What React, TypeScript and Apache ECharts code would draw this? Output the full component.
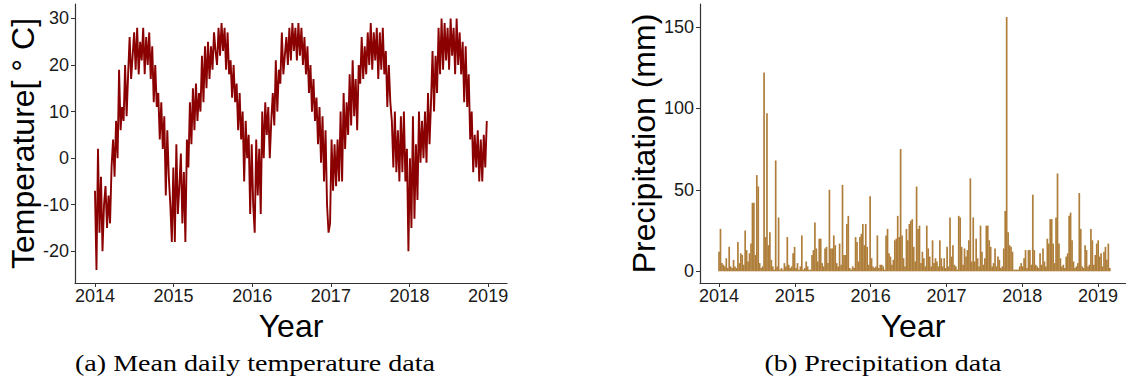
import React, { useEffect, useRef } from "react";
import * as echarts from "echarts";

// ---- data (weekly readings from the reference, starting 2014-01-01) ----
const START_YEAR = 2014;
const STEP_DAYS = 7;

const yearTicks = [2014, 2015, 2016, 2017, 2018, 2019];
const tempTicks = [-20, -10, 0, 10, 20, 30];
const precipTicks = [0, 50, 100, 150];

const temp2014 = [
  -7, -24, 2, -16, -4, -20, -10, -6, -15, -8, -14, -2, 4, -4, 8, 0, 19, 6, 11, 8,
  20, 9, 18, 26, 17, 22, 27, 19, 28, 18, 25, 21, 28, 18, 26, 20, 27, 17, 24, 12,
  20, 11, 14, 4, 12, 2, 9, -8, 6, -4, -10, -18,
];
const temp2015 = [
  -2, -18, 3, -12, -6, 1, -14, -3, -18, 4, -2, 12, 3, 15, 6, 16, 8, 14, 10, 22,
  12, 24, 15, 25, 17, 24, 19, 27, 23, 20, 28, 22, 29, 23, 28, 19, 27, 18, 21, 13,
  20, 12, 16, 6, 14, 4, 10, -5, 8, 0, 5, -12,
];
const temp2016 = [
  3, -10, -16, 4, -8, 2, -12, 10, 0, 12, 5, 11, 0, 8, 14, 7, 21, 10, 19, 16,
  27, 18, 22, 26, 20, 28, 21, 29, 23, 28, 21, 29, 22, 28, 20, 26, 18, 24, 14, 20,
  10, 17, 8, 13, 3, 11, -1, 9, -5, 6, -10, -16,
];
const temp2017 = [
  -14, 4, -7, 3, -6, 4, -5, 10, -5, 14, 2, 12, 5, 18, 7, 21, 9, 17, 6, 20,
  16, 26, 17, 24, 18, 27, 20, 29, 19, 27, 21, 28, 17, 27, 19, 28, 18, 23, 11, 20,
  12, 8, -2, 10, -3, 6, -5, 9, -3, 10, -5, 2,
];
const temp2018 = [
  -20, 0, -15, 9, -13, 3, -9, 10, -1, 8, 0, 10, -1, 14, 3, 12, 23, 10, 22, 14,
  28, 18, 30, 19, 29, 21, 28, 19, 30, 22, 28, 18, 30, 20, 27, 18, 25, 12, 24, 11,
  18, 4, 10, -3, 5, -2, 6, -5, 4, -5, 5, -2, 8,
];

const precip2014 = [
  12, 26, 5, 4, 3, 8, 2, 15, 3, 2, 7, 3, 2, 18, 5, 11, 10, 4, 25, 13,
  6, 11, 17, 42, 42, 10, 59, 52, 5, 2, 3, 122, 21, 97, 16, 24, 7, 3, 1, 68,
  3, 33, 1, 2, 1, 5, 3, 21, 4, 2, 3, 11,
];
const precip2015 = [
  15, 2, 5, 1, 3, 22, 1, 2, 6, 3, 1, 1, 10, 13, 30, 14, 6, 20, 20, 5,
  3, 14, 15, 5, 50, 14, 14, 22, 16, 5, 3, 17, 4, 53, 10, 10, 29, 34, 2, 1,
  3, 2, 21, 18, 6, 21, 23, 29, 16, 29, 15, 4,
];
const precip2016 = [
  46, 8, 3, 2, 3, 22, 2, 4, 4, 3, 1, 22, 26, 11, 9, 4, 7, 19, 20, 34,
  21, 75, 22, 8, 3, 26, 19, 29, 31, 32, 15, 6, 52, 26, 28, 5, 12, 8, 3, 28,
  14, 9, 3, 19, 5, 8, 6, 3, 19, 8, 3, 8,
];
const precip2017 = [
  2, 15, 3, 33, 9, 16, 4, 3, 1, 34, 33, 15, 4, 14, 9, 13, 19, 57, 6, 33,
  6, 20, 8, 3, 28, 12, 4, 8, 28, 28, 19, 15, 3, 5, 14, 3, 9, 7, 2, 3,
  14, 37, 156, 24, 16, 15, 12, 1, 1, 1, 1, 3,
];
const precip2018 = [
  5, 3, 8, 13, 2, 13, 13, 4, 47, 13, 4, 3, 2, 11, 4, 14, 6, 3, 20, 17,
  32, 32, 17, 5, 33, 60, 17, 8, 3, 4, 2, 9, 11, 34, 36, 19, 6, 2, 3, 5,
  48, 26, 3, 2, 16, 13, 3, 4, 26, 19, 4, 10,
];
const precip2019 = [17, 19, 9, 11, 3, 12, 15, 7, 17, 2];

const temperature = [...temp2014, ...temp2015, ...temp2016, ...temp2017, ...temp2018];
const precipitation = [
  ...precip2014, ...precip2015, ...precip2016, ...precip2017, ...precip2018, ...precip2019,
];

const TEMP_COLOR = "#8B0000";
const PRECIP_COLOR = "#AE7E3A";
const AXIS_COLOR = "#333333";
const LABEL_COLOR = "#1a1a1a";
const SANS = "Liberation Sans";
const SERIF = "Liberation Serif";

function toPairs(values: number[]) {
  return values.map((v, i) => [START_YEAR + (i * STEP_DAYS) / 365.25, v]);
}

function xAxisFor(gridIndex: number, min: number, max: number) {
  return {
    type: "value",
    gridIndex,
    min,
    max,
    name: "Year",
    nameLocation: "middle",
    nameGap: 24,
    nameTextStyle: { fontFamily: SANS, fontSize: 32, color: "#000" },
    axisLine: { show: true, onZero: false, lineStyle: { color: AXIS_COLOR, width: 1.2 } },
    axisTick: { show: true, length: 4, customValues: yearTicks, lineStyle: { color: AXIS_COLOR, width: 1 } },
    axisLabel: {
      customValues: yearTicks,
      formatter: (v: number) => String(Math.round(v)),
      margin: 4,
      fontFamily: SANS,
      fontSize: 18,
      color: LABEL_COLOR,
    },
    splitLine: { show: false },
  };
}

function yAxisFor(gridIndex: number, min: number, max: number, ticks: number[], name: string, gap: number) {
  return {
    type: "value",
    gridIndex,
    min,
    max,
    name,
    nameLocation: "middle",
    nameRotate: 90,
    nameGap: gap,
    nameTextStyle: { fontFamily: SANS, fontSize: 32, color: "#000" },
    axisLine: { show: true, onZero: false, lineStyle: { color: AXIS_COLOR, width: 1.2 } },
    axisTick: { show: true, length: 4, customValues: ticks, lineStyle: { color: AXIS_COLOR, width: 1 } },
    axisLabel: {
      customValues: ticks,
      formatter: (v: number) => String(Math.round(v)),
      margin: 6,
      fontFamily: SANS,
      fontSize: 18,
      color: LABEL_COLOR,
    },
    splitLine: { show: false },
  };
}

export default function App() {
  const ref = useRef<HTMLDivElement | null>(null);

  useEffect(() => {
    if (!ref.current) return;
    const chart = echarts.init(ref.current, undefined, { renderer: "svg" });
    chart.setOption({
      animation: false,
      backgroundColor: "#ffffff",
      grid: [
        { left: 75, top: 4, width: 432, height: 279 },
        { left: 700, top: 4, width: 426, height: 279 },
      ],
      xAxis: [xAxisFor(0, 2013.746, 2019.24), xAxisFor(1, 2013.749, 2019.369)],
      yAxis: [
        yAxisFor(0, -26.8, 33.1, tempTicks, "Temperature[ \u00b0 C]", 32),
        yAxisFor(1, -7.2, 164, precipTicks, "Precipitation (mm)", 36),
      ],
      series: [
        {
          type: "line",
          xAxisIndex: 0,
          yAxisIndex: 0,
          data: toPairs(temperature),
          symbol: "none",
          showSymbol: false,
          lineStyle: { color: TEMP_COLOR, width: 1.9, join: "miter" },
          silent: true,
        },
        {
          type: "bar",
          xAxisIndex: 1,
          yAxisIndex: 1,
          data: toPairs(precipitation),
          barWidth: 1.7,
          itemStyle: { color: PRECIP_COLOR },
          silent: true,
        },
      ],
      graphic: [
        {
          type: "text",
          x: 255,
          y: 363,
          scaleX: 1.17,
          style: {
            text: "(a) Mean daily temperature data",
            font: `24px "${SERIF}"`,
            fill: "#000",
            textAlign: "center",
            textVerticalAlign: "middle",
          },
        },
        {
          type: "text",
          x: 883,
          y: 363,
          scaleX: 1.17,
          style: {
            text: "(b) Precipitation data",
            font: `24px "${SERIF}"`,
            fill: "#000",
            textAlign: "center",
            textVerticalAlign: "middle",
          },
        },
      ],
    });
    return () => chart.dispose();
  }, []);

  return (
    <div
      ref={ref}
      style={{ position: "absolute", left: 0, top: 0, width: 1126, height: 382, background: "#fff" }}
    />
  );
}
